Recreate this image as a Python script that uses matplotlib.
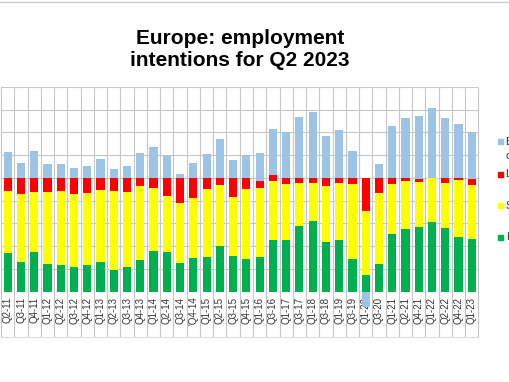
import matplotlib

matplotlib.use("Agg")
import matplotlib.pyplot as plt
import numpy as np
from matplotlib.lines import Line2D
from matplotlib.patches import Rectangle
from matplotlib.transforms import blended_transform_factory

plt.rcParams["font.family"] = ["Liberation Sans", "DejaVu Sans"]

# survey quarters shown on the axis (as printed, apostrophe included)
quarters = ["Q2-11", "Q3-11", "Q4-11", "Q1-12", "Q2-12", "Q3-12", "Q4-12",
            "Q1-13", "Q2-13", "Q3-13", "Q4-13", "Q1-14", "Q2-14", "Q3-14",
            "'Q4-14", "Q1-15", "Q2-15", "Q3-15", "Q4-15", "Q1-16", "Q3-16",
            "Q1-17", "Q3-17", "Q1-18", "Q3-18", "Q1-19", "Q3-19", "Q1-20",
            "Q3-20", "Q1-21", "Q2-21", "Q4-21", "Q1-22", "Q2-22", "Q4-22",
            "Q1-23"]

# shares of firms (%)
hire = [33.7, 26.1, 34.6, 24.3, 23.5, 22.0, 23.5, 26.4, 19.1, 21.7, 27.9, 36.1,
        34.6, 25.5, 29.9, 30.2, 40.2, 31.4, 29.0, 30.2, 45.2, 45.2, 57.5, 62.5,
        43.7, 45.7, 28.4, 14.7, 24.6, 50.7, 54.8, 57.2, 61.3, 56.3, 48.4, 46.0]
stay = [54.8, 59.8, 53.4, 63.0, 64.8, 63.9, 63.3, 63.3, 69.2, 65.7, 65.4, 55.1,
        49.9, 52.2, 52.5, 60.1, 53.7, 52.2, 61.3, 61.3, 51.9, 49.3, 38.1, 33.1,
        49.0, 49.6, 66.0, 56.3, 62.5, 43.7, 42.2, 39.3, 38.4, 39.3, 50.1, 47.5]
lay_off = [11.4, 14.1, 12.0, 12.6, 11.7, 14.1, 13.2, 10.3, 11.7, 12.6, 6.7, 8.8,
           15.5, 22.3, 17.6, 9.7, 6.2, 16.4, 9.7, 5.6, 5.6, 5.6, 4.4, 4.4,
           7.3, 4.7, 5.6, 29.0, 12.9, 5.6, 2.9, 2.9, 0.3, 4.4, 1.5, 5.9]
balance = [22.9, 12.9, 23.5, 12.3, 12.3, 8.5, 10.9, 17.0, 8.2, 10.6, 22.0, 27.6,
           19.4, 3.8, 13.5, 21.4, 34.6, 15.5, 19.9, 24.9, 40.2, 39.9, 53.7, 58.4,
           37.0, 41.9, 23.5, -13.5, 12.0, 45.7, 52.5, 54.8, 61.3, 52.5, 47.5, 41.1]

legend_labels = ["Balance of\nchange", "Lay off", "Stay the same", "Hire"]

BLUE, RED, YELLOW, GREEN = "#9dc3e6", "#ff0000", "#ffff00", "#00b050"
GRID = "#c6c6c6"

W, H = 510, 382
fig = plt.figure(figsize=(W / 100, H / 100), dpi=100)
ax = fig.add_axes([1.2 / W, 1 - 291.7 / H, 477.1 / W, 204.7 / H])

x = np.arange(len(quarters))
hire_a, stay_a, lay_a, bal_a = (np.array(v) for v in (hire, stay, lay_off, balance))
base = -100.0
top = base + hire_a + stay_a + lay_a
bw = 0.62

ax.bar(x, hire_a, bottom=base, width=bw, color=GREEN, zorder=2)
ax.bar(x, stay_a, bottom=base + hire_a, width=bw, color=YELLOW, zorder=2)
ax.bar(x, lay_a, bottom=base + hire_a + stay_a, width=bw, color=RED, zorder=2)
blue = ax.bar(x, bal_a, bottom=np.where(bal_a >= 0, top, base), width=bw,
              color=BLUE, zorder=2)
for p in blue:
    p.set_clip_on(False)

ax.set_xlim(-0.5, len(quarters) - 0.5)
ax.set_ylim(-100, 80)
ax.set_yticks(np.arange(-100, 81, 20))
ax.yaxis.grid(True, color=GRID, lw=0.8)
ax.set_axisbelow(True)
ax.tick_params(axis="y", length=0, labelleft=False)
ax.set_xticks(x, quarters, rotation=90, fontsize=7, color="#333333")
ax.tick_params(axis="x", length=0, pad=3.5)
for s in ax.spines.values():
    s.set_visible(False)

# category separators running down through the label band
trans = blended_transform_factory(ax.transData, ax.transAxes)
low = -(337 - 291.7) / 204.7
ax.vlines(np.arange(-0.5, len(quarters)), low, 1, transform=trans,
          color=GRID, lw=0.8, clip_on=False, zorder=0)
ax.plot([-0.5, len(quarters) - 0.5], [low, low], transform=trans,
        color="#dddddd", lw=0.8, clip_on=False)

fig.add_artist(Line2D([0, 1], [1 - 1.5 / H, 1 - 1.5 / H], color="#d0d0d0", lw=1))

fig.text(0.47, 1 - 49.5 / H, "Europe: employment\nintentions for Q2 2023",
         ha="center", va="center", fontsize=15, fontweight="bold",
         linespacing=1.18)

# legend, cut off by the right edge of the picture
leg_y = [141.8, 174.2, 205.8, 237.5]
for lab, col, yy in zip(legend_labels, [BLUE, RED, YELLOW, GREEN], leg_y):
    fig.add_artist(Rectangle((498.3 / W, 1 - (yy + 2.5) / H), 5 / W, 5 / H,
                             transform=fig.transFigure, color=col))
    fig.text(506 / W, 1 - (yy - 5) / H, lab, ha="left", va="top",
             fontsize=8, color="#333333", linespacing=1.55)

fig.savefig("out.png", dpi=100)
